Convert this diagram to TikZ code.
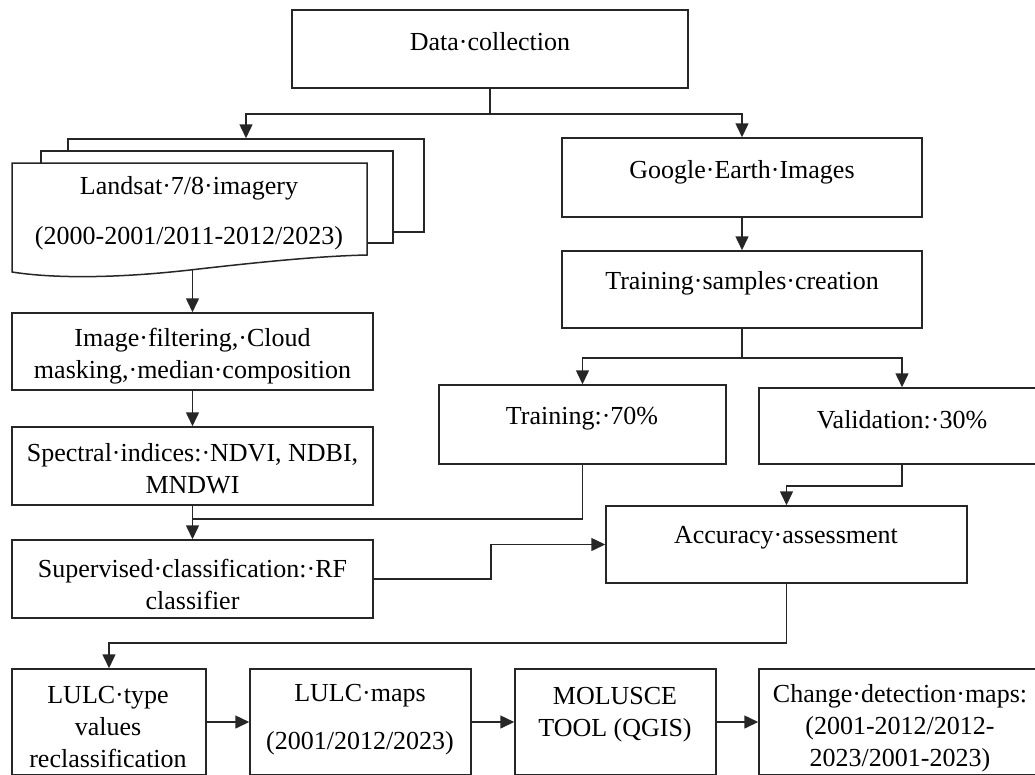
\documentclass[tikz,border=0pt]{standalone}
\usepackage{fontspec}
\setmainfont{Liberation Serif}
\usetikzlibrary{arrows.meta, positioning}

\begin{document}
\begin{tikzpicture}[x=1pt, y=1pt, >={Triangle[length=14pt,width=13pt]},
    line width=1.5pt, color=black!85,
    box/.style 2 args={draw, fill=white, minimum width=#1, minimum height=#2, inner sep=0pt},
    txt/.style={align=center, text=black, inner sep=0pt, font=\fontsize{26}{32}\selectfont}]
    \useasboundingbox (0,0) rectangle (1035,-774);
    \clip (0,0) rectangle (1035,-774);

    % --- Top ---
    \node[box={396}{78}] (data) at (490,-49) {};
    \node[txt] (data-t) at (490,-42) {Data·collection};

    % --- Landsat stack ---
    \node[box={356}{93}] (lsat3) at (246,-185.5) {};
    \node[box={352}{92}] (lsat2) at (217,-197) {};
    \draw[fill=white] (12,-163) -- (367,-163) -- (367,-255)
      .. controls (320,-256) and (260,-262) .. (190,-270)
      .. controls (110,-279) and (50,-278) .. (12,-272) -- cycle;
    \coordinate (lsat-bot) at (192.5,-270);
    \node[txt] (lsat-t) at (189,-213) {Landsat·7/8·imagery\\[18pt](2000-2001/2011-2012/2023)};

    % --- Left column ---
    \node[box={361}{77}] (filt) at (192.5,-351.5) {};
    \node[txt] (filt-t) at (192.5,-356) {Image·filtering,·Cloud\\masking,·median·composition};
    \node[box={361}{78}] (spec) at (192.5,-466) {};
    \node[txt] (spec-t) at (192.5,-469) {Spectral·indices:·NDVI, NDBI,\\MNDWI};
    \node[box={361}{78}] (sup) at (192.5,-579) {};
    \node[txt] (sup-t) at (192.5,-584) {Supervised·classification:·RF\\classifier};

    % --- Right column ---
    \node[box={360}{79}] (google) at (742,-177.5) {};
    \node[txt] (google-t) at (742,-172) {Google·Earth·Images};
    \node[box={360}{77}] (samp) at (742,-289.5) {};
    \node[txt] (samp-t) at (742,-283) {Training·samples·creation};
    \node[box={287}{79}] (train) at (582.5,-424.5) {};
    \node[txt] (train-t) at (582,-419) {Training:·70\%};
    \node[box={286}{76}] (valid) at (902,-426) {};
    \node[txt] (valid-t) at (902,-420) {Validation:·30\%};
    \node[box={361}{77}] (acc) at (786.5,-544.5) {};
    \node[txt] (acc-t) at (786,-538) {Accuracy·assessment};

    % --- Bottom row ---
    \node[box={194}{106}] (lulc) at (109,-722) {};
    \node[txt] (lulc-t) at (108,-727) {LULC·type\\values\\reclassification};
    \node[box={221}{106}] (maps) at (360.5,-722) {};
    \node[txt] (maps-t) at (360,-720) {LULC·maps\\[16pt](2001/2012/2023)};
    \node[box={201}{106}] (molusce) at (615.5,-722) {};
    \node[txt] (molusce-t) at (615,-715) {MOLUSCE\\TOOL (QGIS)};
    \node[box={286}{106}] (change) at (902,-722) {};
    \node[txt] (change-t) at (900,-728) {Change·detection·maps:\\(2001-2012/2012-\\2023/2001-2023)};

    % --- Connectors ---
    \coordinate (split-a) at (490,-114);
    \draw (data.south) -- (split-a);
    \draw[->] (split-a) -| (lsat3.north);
    \draw[->] (split-a) -| (google.north);

    \draw[->] (lsat-bot) -- (filt.north);
    \draw[->] (filt.south) -- (spec.north);
    \draw[->] (spec.south) -- (sup.north);

    \draw[->] (google.south) -- (samp.north);
    \coordinate (split-b) at (742,-358);
    \draw (samp.south) -- (split-b);
    \draw[->] (split-b) -| (train.north);
    \draw[->] (split-b) -| (valid.north);

    \coordinate (join) at (192.5,-519);
    \draw (train.south) |- (join);
    \draw[->] (valid.south) -- ++(0,-21) -| (acc.north);
    \draw[->] (sup.east) -- ++(117,0) |- (acc.west);
    \draw[->] (acc.south) -- ++(0,-59) -| (lulc.north);

    \draw[->] (lulc.east) -- (maps.west);
    \draw[->] (maps.east) -- (molusce.west);
    \draw[->] (molusce.east) -- (change.west);
\end{tikzpicture}
\end{document}
